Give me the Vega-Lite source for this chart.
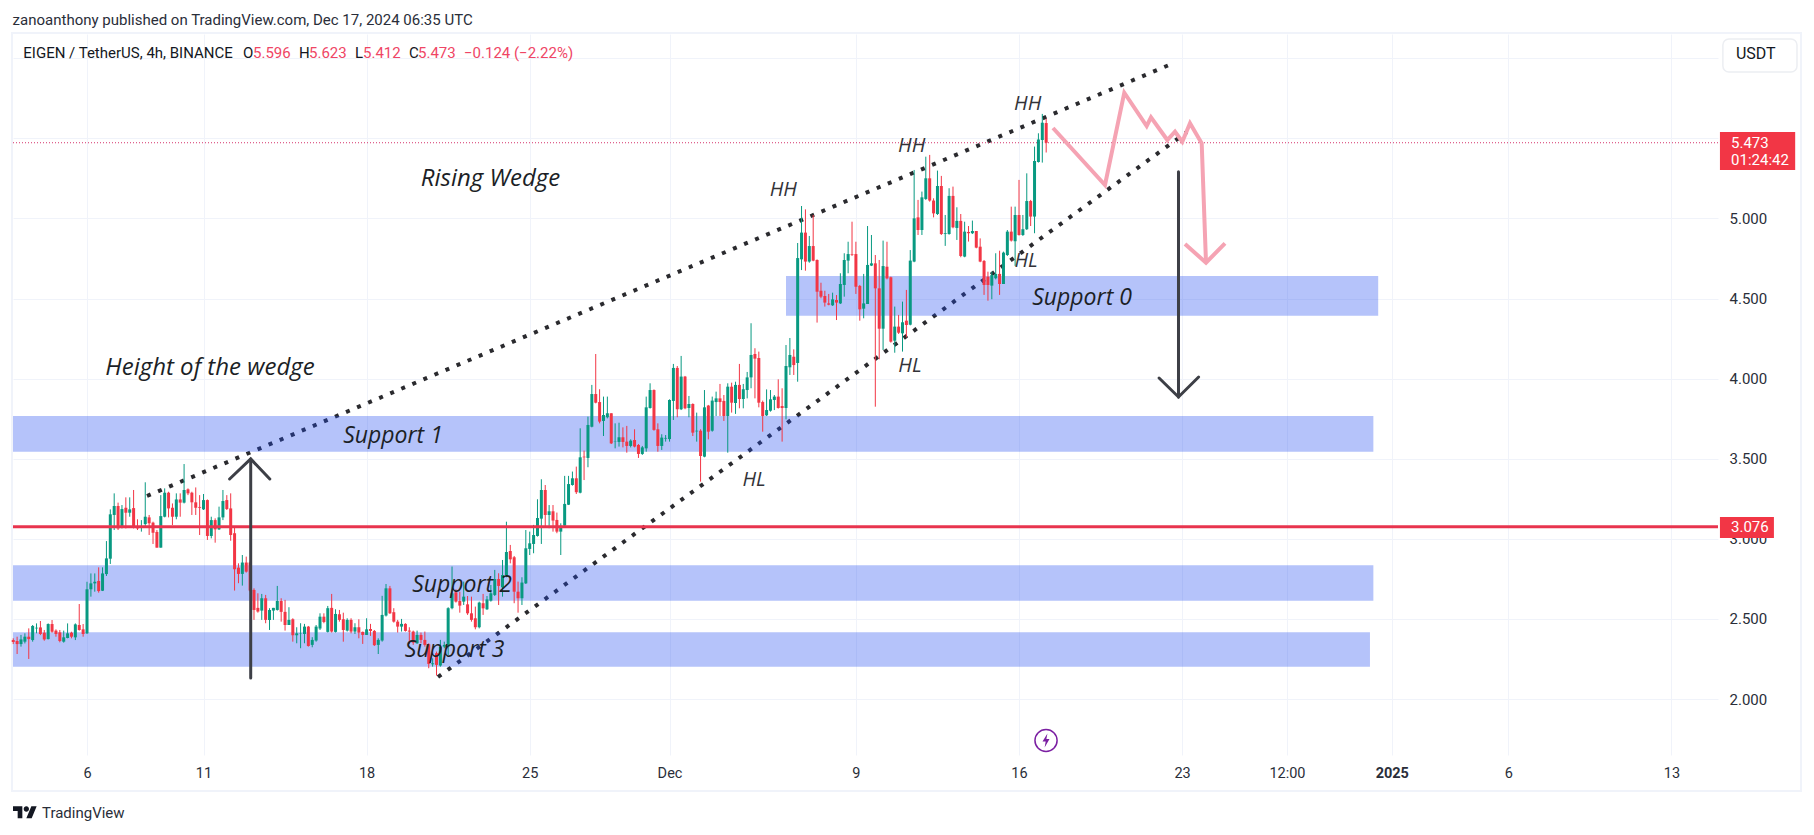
{
  "$schema": "https://vega.github.io/schema/vega-lite/v6.json",
  "width": 1705,
  "height": 721,
  "padding": {"left": 13, "top": 34, "right": 96, "bottom": 80},
  "autosize": "none",
  "background": "#ffffff",
  "config": {"view": {"stroke": null}, "text": {"font": "Roboto"}},
  "datasets": {
    "candles": [
      {"t":"2024-11-02T20:00Z","o":2.368,"h":2.379,"l":2.343,"c":2.356},
      {"t":"2024-11-03T00:00Z","o":2.362,"h":2.389,"l":2.281,"c":2.343},
      {"t":"2024-11-03T04:00Z","o":2.343,"h":2.400,"l":2.327,"c":2.372},
      {"t":"2024-11-03T08:00Z","o":2.358,"h":2.410,"l":2.347,"c":2.389},
      {"t":"2024-11-03T12:00Z","o":2.389,"h":2.441,"l":2.250,"c":2.374},
      {"t":"2024-11-03T16:00Z","o":2.368,"h":2.462,"l":2.358,"c":2.456},
      {"t":"2024-11-03T20:00Z","o":2.441,"h":2.472,"l":2.410,"c":2.445},
      {"t":"2024-11-04T00:00Z","o":2.447,"h":2.487,"l":2.399,"c":2.406},
      {"t":"2024-11-04T04:00Z","o":2.414,"h":2.431,"l":2.364,"c":2.372},
      {"t":"2024-11-04T08:00Z","o":2.374,"h":2.472,"l":2.372,"c":2.468},
      {"t":"2024-11-04T12:00Z","o":2.468,"h":2.493,"l":2.414,"c":2.420},
      {"t":"2024-11-04T16:00Z","o":2.427,"h":2.435,"l":2.389,"c":2.406},
      {"t":"2024-11-04T20:00Z","o":2.416,"h":2.431,"l":2.354,"c":2.362},
      {"t":"2024-11-05T00:00Z","o":2.358,"h":2.427,"l":2.352,"c":2.385},
      {"t":"2024-11-05T04:00Z","o":2.381,"h":2.472,"l":2.379,"c":2.410},
      {"t":"2024-11-05T08:00Z","o":2.414,"h":2.420,"l":2.379,"c":2.389},
      {"t":"2024-11-05T12:00Z","o":2.385,"h":2.472,"l":2.368,"c":2.466},
      {"t":"2024-11-05T16:00Z","o":2.462,"h":2.593,"l":2.427,"c":2.431},
      {"t":"2024-11-05T20:00Z","o":2.435,"h":2.468,"l":2.389,"c":2.406},
      {"t":"2024-11-06T00:00Z","o":2.410,"h":2.732,"l":2.406,"c":2.685},
      {"t":"2024-11-06T04:00Z","o":2.685,"h":2.784,"l":2.639,"c":2.722},
      {"t":"2024-11-06T08:00Z","o":2.722,"h":2.784,"l":2.670,"c":2.732},
      {"t":"2024-11-06T12:00Z","o":2.737,"h":2.822,"l":2.664,"c":2.674},
      {"t":"2024-11-06T16:00Z","o":2.676,"h":2.822,"l":2.674,"c":2.784},
      {"t":"2024-11-06T20:00Z","o":2.780,"h":2.986,"l":2.768,"c":2.878},
      {"t":"2024-11-07T00:00Z","o":2.876,"h":3.184,"l":2.843,"c":3.153},
      {"t":"2024-11-07T04:00Z","o":3.149,"h":3.284,"l":3.055,"c":3.205},
      {"t":"2024-11-07T08:00Z","o":3.205,"h":3.226,"l":3.055,"c":3.065},
      {"t":"2024-11-07T12:00Z","o":3.070,"h":3.211,"l":3.065,"c":3.186},
      {"t":"2024-11-07T16:00Z","o":3.194,"h":3.259,"l":3.065,"c":3.163},
      {"t":"2024-11-07T20:00Z","o":3.163,"h":3.259,"l":3.138,"c":3.184},
      {"t":"2024-11-08T00:00Z","o":3.192,"h":3.305,"l":3.065,"c":3.070},
      {"t":"2024-11-08T04:00Z","o":3.076,"h":3.122,"l":3.055,"c":3.065},
      {"t":"2024-11-08T08:00Z","o":3.076,"h":3.117,"l":3.045,"c":3.080},
      {"t":"2024-11-08T12:00Z","o":3.092,"h":3.353,"l":3.080,"c":3.138},
      {"t":"2024-11-08T16:00Z","o":3.134,"h":3.149,"l":3.024,"c":3.097},
      {"t":"2024-11-08T20:00Z","o":3.101,"h":3.107,"l":2.968,"c":3.038},
      {"t":"2024-11-09T00:00Z","o":3.043,"h":3.055,"l":2.945,"c":2.945},
      {"t":"2024-11-09T04:00Z","o":2.945,"h":3.273,"l":2.945,"c":3.142},
      {"t":"2024-11-09T08:00Z","o":3.138,"h":3.315,"l":3.134,"c":3.288},
      {"t":"2024-11-09T12:00Z","o":3.288,"h":3.294,"l":3.134,"c":3.190},
      {"t":"2024-11-09T16:00Z","o":3.194,"h":3.221,"l":3.086,"c":3.138},
      {"t":"2024-11-09T20:00Z","o":3.138,"h":3.284,"l":3.122,"c":3.246},
      {"t":"2024-11-10T00:00Z","o":3.246,"h":3.284,"l":3.138,"c":3.226},
      {"t":"2024-11-10T04:00Z","o":3.226,"h":3.467,"l":3.221,"c":3.305},
      {"t":"2024-11-10T08:00Z","o":3.309,"h":3.315,"l":3.273,"c":3.284},
      {"t":"2024-11-10T12:00Z","o":3.288,"h":3.294,"l":3.149,"c":3.228},
      {"t":"2024-11-10T16:00Z","o":3.228,"h":3.321,"l":3.149,"c":3.194},
      {"t":"2024-11-10T20:00Z","o":3.199,"h":3.273,"l":3.024,"c":3.194},
      {"t":"2024-11-11T00:00Z","o":3.184,"h":3.280,"l":3.180,"c":3.242},
      {"t":"2024-11-11T04:00Z","o":3.242,"h":3.246,"l":2.993,"c":3.018},
      {"t":"2024-11-11T08:00Z","o":3.018,"h":3.138,"l":3.003,"c":3.117},
      {"t":"2024-11-11T12:00Z","o":3.117,"h":3.128,"l":2.976,"c":3.059},
      {"t":"2024-11-11T16:00Z","o":3.059,"h":3.201,"l":3.055,"c":3.134},
      {"t":"2024-11-11T20:00Z","o":3.134,"h":3.305,"l":3.117,"c":3.236},
      {"t":"2024-11-12T00:00Z","o":3.242,"h":3.273,"l":3.180,"c":3.186},
      {"t":"2024-11-12T04:00Z","o":3.190,"h":3.284,"l":2.988,"c":3.024},
      {"t":"2024-11-12T08:00Z","o":3.035,"h":3.076,"l":2.677,"c":2.810},
      {"t":"2024-11-12T12:00Z","o":2.820,"h":2.847,"l":2.723,"c":2.781},
      {"t":"2024-11-12T16:00Z","o":2.781,"h":2.899,"l":2.708,"c":2.852},
      {"t":"2024-11-12T20:00Z","o":2.852,"h":2.889,"l":2.789,"c":2.795},
      {"t":"2024-11-13T00:00Z","o":2.852,"h":2.858,"l":2.671,"c":2.677},
      {"t":"2024-11-13T04:00Z","o":2.681,"h":2.691,"l":2.494,"c":2.556},
      {"t":"2024-11-13T08:00Z","o":2.569,"h":2.660,"l":2.539,"c":2.546},
      {"t":"2024-11-13T12:00Z","o":2.552,"h":2.656,"l":2.494,"c":2.629},
      {"t":"2024-11-13T16:00Z","o":2.629,"h":2.650,"l":2.473,"c":2.494},
      {"t":"2024-11-13T20:00Z","o":2.494,"h":2.567,"l":2.431,"c":2.556},
      {"t":"2024-11-14T00:00Z","o":2.552,"h":2.569,"l":2.494,"c":2.569},
      {"t":"2024-11-14T04:00Z","o":2.556,"h":2.706,"l":2.552,"c":2.612},
      {"t":"2024-11-14T08:00Z","o":2.612,"h":2.629,"l":2.483,"c":2.544},
      {"t":"2024-11-14T12:00Z","o":2.544,"h":2.619,"l":2.427,"c":2.462},
      {"t":"2024-11-14T16:00Z","o":2.462,"h":2.573,"l":2.462,"c":2.494},
      {"t":"2024-11-14T20:00Z","o":2.498,"h":2.504,"l":2.358,"c":2.398},
      {"t":"2024-11-15T00:00Z","o":2.398,"h":2.448,"l":2.348,"c":2.410},
      {"t":"2024-11-15T04:00Z","o":2.408,"h":2.473,"l":2.317,"c":2.410},
      {"t":"2024-11-15T08:00Z","o":2.406,"h":2.469,"l":2.348,"c":2.452},
      {"t":"2024-11-15T12:00Z","o":2.452,"h":2.456,"l":2.327,"c":2.331},
      {"t":"2024-11-15T16:00Z","o":2.338,"h":2.386,"l":2.323,"c":2.369},
      {"t":"2024-11-15T20:00Z","o":2.365,"h":2.462,"l":2.358,"c":2.452},
      {"t":"2024-11-16T00:00Z","o":2.440,"h":2.535,"l":2.431,"c":2.514},
      {"t":"2024-11-16T04:00Z","o":2.514,"h":2.535,"l":2.473,"c":2.481},
      {"t":"2024-11-16T08:00Z","o":2.419,"h":2.581,"l":2.415,"c":2.567},
      {"t":"2024-11-16T12:00Z","o":2.569,"h":2.656,"l":2.415,"c":2.421},
      {"t":"2024-11-16T16:00Z","o":2.419,"h":2.560,"l":2.415,"c":2.531},
      {"t":"2024-11-16T20:00Z","o":2.529,"h":2.556,"l":2.483,"c":2.494},
      {"t":"2024-11-17T00:00Z","o":2.498,"h":2.539,"l":2.358,"c":2.431},
      {"t":"2024-11-17T04:00Z","o":2.427,"h":2.504,"l":2.421,"c":2.494},
      {"t":"2024-11-17T08:00Z","o":2.494,"h":2.504,"l":2.410,"c":2.421},
      {"t":"2024-11-17T12:00Z","o":2.421,"h":2.473,"l":2.406,"c":2.448},
      {"t":"2024-11-17T16:00Z","o":2.448,"h":2.498,"l":2.379,"c":2.415},
      {"t":"2024-11-17T20:00Z","o":2.419,"h":2.421,"l":2.344,"c":2.400},
      {"t":"2024-11-18T00:00Z","o":2.400,"h":2.504,"l":2.400,"c":2.435},
      {"t":"2024-11-18T04:00Z","o":2.437,"h":2.469,"l":2.394,"c":2.425},
      {"t":"2024-11-18T08:00Z","o":2.425,"h":2.431,"l":2.331,"c":2.336},
      {"t":"2024-11-18T12:00Z","o":2.338,"h":2.379,"l":2.281,"c":2.369},
      {"t":"2024-11-18T16:00Z","o":2.365,"h":2.644,"l":2.358,"c":2.525},
      {"t":"2024-11-18T20:00Z","o":2.521,"h":2.718,"l":2.515,"c":2.691},
      {"t":"2024-11-19T00:00Z","o":2.691,"h":2.706,"l":2.531,"c":2.535},
      {"t":"2024-11-19T04:00Z","o":2.542,"h":2.567,"l":2.477,"c":2.483},
      {"t":"2024-11-19T08:00Z","o":2.483,"h":2.494,"l":2.415,"c":2.452},
      {"t":"2024-11-19T12:00Z","o":2.452,"h":2.500,"l":2.421,"c":2.469},
      {"t":"2024-11-19T16:00Z","o":2.469,"h":2.473,"l":2.421,"c":2.425},
      {"t":"2024-11-19T20:00Z","o":2.427,"h":2.448,"l":2.344,"c":2.421},
      {"t":"2024-11-20T00:00Z","o":2.421,"h":2.427,"l":2.338,"c":2.352},
      {"t":"2024-11-20T04:00Z","o":2.348,"h":2.427,"l":2.344,"c":2.400},
      {"t":"2024-11-20T08:00Z","o":2.400,"h":2.415,"l":2.348,"c":2.369},
      {"t":"2024-11-20T12:00Z","o":2.369,"h":2.421,"l":2.327,"c":2.338},
      {"t":"2024-11-20T16:00Z","o":2.342,"h":2.348,"l":2.192,"c":2.219},
      {"t":"2024-11-20T20:00Z","o":2.217,"h":2.254,"l":2.202,"c":2.223},
      {"t":"2024-11-21T00:00Z","o":2.286,"h":2.296,"l":2.146,"c":2.213},
      {"t":"2024-11-21T04:00Z","o":2.209,"h":2.369,"l":2.202,"c":2.327},
      {"t":"2024-11-21T08:00Z","o":2.327,"h":2.358,"l":2.317,"c":2.338},
      {"t":"2024-11-21T12:00Z","o":2.327,"h":2.573,"l":2.275,"c":2.567},
      {"t":"2024-11-21T16:00Z","o":2.567,"h":2.827,"l":2.560,"c":2.660},
      {"t":"2024-11-21T20:00Z","o":2.666,"h":2.685,"l":2.602,"c":2.608},
      {"t":"2024-11-22T00:00Z","o":2.612,"h":2.670,"l":2.539,"c":2.583},
      {"t":"2024-11-22T04:00Z","o":2.608,"h":2.733,"l":2.587,"c":2.639},
      {"t":"2024-11-22T08:00Z","o":2.591,"h":2.643,"l":2.525,"c":2.535},
      {"t":"2024-11-22T12:00Z","o":2.535,"h":2.639,"l":2.483,"c":2.494},
      {"t":"2024-11-22T16:00Z","o":2.504,"h":2.577,"l":2.435,"c":2.448},
      {"t":"2024-11-22T20:00Z","o":2.448,"h":2.608,"l":2.441,"c":2.602},
      {"t":"2024-11-23T00:00Z","o":2.598,"h":2.656,"l":2.525,"c":2.566},
      {"t":"2024-11-23T04:00Z","o":2.560,"h":2.643,"l":2.556,"c":2.622},
      {"t":"2024-11-23T08:00Z","o":2.614,"h":2.712,"l":2.608,"c":2.660},
      {"t":"2024-11-23T12:00Z","o":2.650,"h":2.806,"l":2.643,"c":2.749},
      {"t":"2024-11-23T16:00Z","o":2.749,"h":2.785,"l":2.587,"c":2.706},
      {"t":"2024-11-23T20:00Z","o":2.697,"h":2.868,"l":2.639,"c":2.774},
      {"t":"2024-11-24T00:00Z","o":2.774,"h":3.107,"l":2.760,"c":2.918},
      {"t":"2024-11-24T04:00Z","o":2.924,"h":2.962,"l":2.847,"c":2.872},
      {"t":"2024-11-24T08:00Z","o":2.885,"h":2.893,"l":2.598,"c":2.670},
      {"t":"2024-11-24T12:00Z","o":2.670,"h":2.733,"l":2.539,"c":2.629},
      {"t":"2024-11-24T16:00Z","o":2.629,"h":2.760,"l":2.587,"c":2.727},
      {"t":"2024-11-24T20:00Z","o":2.722,"h":3.055,"l":2.718,"c":2.941},
      {"t":"2024-11-25T00:00Z","o":2.937,"h":3.045,"l":2.899,"c":2.972},
      {"t":"2024-11-25T04:00Z","o":2.968,"h":3.087,"l":2.910,"c":3.024},
      {"t":"2024-11-25T08:00Z","o":3.018,"h":3.247,"l":3.014,"c":3.130},
      {"t":"2024-11-25T12:00Z","o":3.126,"h":3.372,"l":2.968,"c":3.305},
      {"t":"2024-11-25T16:00Z","o":3.305,"h":3.336,"l":3.076,"c":3.149},
      {"t":"2024-11-25T20:00Z","o":3.149,"h":3.211,"l":3.066,"c":3.172},
      {"t":"2024-11-26T00:00Z","o":3.172,"h":3.211,"l":3.045,"c":3.114},
      {"t":"2024-11-26T04:00Z","o":3.118,"h":3.164,"l":3.035,"c":3.045},
      {"t":"2024-11-26T08:00Z","o":3.045,"h":3.097,"l":2.899,"c":3.082},
      {"t":"2024-11-26T12:00Z","o":3.082,"h":3.393,"l":3.076,"c":3.218},
      {"t":"2024-11-26T16:00Z","o":3.213,"h":3.393,"l":3.211,"c":3.342},
      {"t":"2024-11-26T20:00Z","o":3.336,"h":3.420,"l":3.332,"c":3.378},
      {"t":"2024-11-27T00:00Z","o":3.378,"h":3.451,"l":3.280,"c":3.291},
      {"t":"2024-11-27T04:00Z","o":3.288,"h":3.690,"l":3.284,"c":3.509},
      {"t":"2024-11-27T08:00Z","o":3.513,"h":3.551,"l":3.367,"c":3.509},
      {"t":"2024-11-27T12:00Z","o":3.505,"h":3.763,"l":3.447,"c":3.711},
      {"t":"2024-11-27T16:00Z","o":3.700,"h":3.961,"l":3.696,"c":3.904},
      {"t":"2024-11-27T20:00Z","o":3.904,"h":4.154,"l":3.846,"c":3.850},
      {"t":"2024-11-28T00:00Z","o":3.854,"h":3.934,"l":3.721,"c":3.732},
      {"t":"2024-11-28T04:00Z","o":3.736,"h":3.888,"l":3.642,"c":3.773},
      {"t":"2024-11-28T08:00Z","o":3.759,"h":3.888,"l":3.752,"c":3.784},
      {"t":"2024-11-28T12:00Z","o":3.784,"h":3.784,"l":3.592,"c":3.596},
      {"t":"2024-11-28T16:00Z","o":3.605,"h":3.721,"l":3.565,"c":3.607},
      {"t":"2024-11-28T20:00Z","o":3.605,"h":3.725,"l":3.576,"c":3.634},
      {"t":"2024-11-29T00:00Z","o":3.634,"h":3.696,"l":3.571,"c":3.605},
      {"t":"2024-11-29T04:00Z","o":3.607,"h":3.705,"l":3.538,"c":3.580},
      {"t":"2024-11-29T08:00Z","o":3.580,"h":3.621,"l":3.571,"c":3.613},
      {"t":"2024-11-29T12:00Z","o":3.617,"h":3.684,"l":3.571,"c":3.576},
      {"t":"2024-11-29T16:00Z","o":3.586,"h":3.592,"l":3.505,"c":3.530},
      {"t":"2024-11-29T20:00Z","o":3.530,"h":3.580,"l":3.524,"c":3.571},
      {"t":"2024-11-30T00:00Z","o":3.565,"h":3.888,"l":3.544,"c":3.821},
      {"t":"2024-11-30T04:00Z","o":3.817,"h":3.971,"l":3.813,"c":3.929},
      {"t":"2024-11-30T08:00Z","o":3.929,"h":3.933,"l":3.675,"c":3.680},
      {"t":"2024-11-30T12:00Z","o":3.684,"h":3.721,"l":3.544,"c":3.580},
      {"t":"2024-11-30T16:00Z","o":3.580,"h":3.653,"l":3.555,"c":3.632},
      {"t":"2024-11-30T20:00Z","o":3.626,"h":3.648,"l":3.607,"c":3.630},
      {"t":"2024-12-01T00:00Z","o":3.623,"h":3.871,"l":3.607,"c":3.867},
      {"t":"2024-12-01T04:00Z","o":3.861,"h":4.092,"l":3.742,"c":4.067},
      {"t":"2024-12-01T08:00Z","o":4.067,"h":4.079,"l":3.759,"c":3.809},
      {"t":"2024-12-01T12:00Z","o":3.809,"h":4.142,"l":3.804,"c":4.013},
      {"t":"2024-12-01T16:00Z","o":4.013,"h":4.017,"l":3.809,"c":3.815},
      {"t":"2024-12-01T20:00Z","o":3.817,"h":3.892,"l":3.759,"c":3.842},
      {"t":"2024-12-02T00:00Z","o":3.842,"h":3.846,"l":3.642,"c":3.663},
      {"t":"2024-12-02T04:00Z","o":3.671,"h":3.788,"l":3.607,"c":3.675},
      {"t":"2024-12-02T08:00Z","o":3.675,"h":3.684,"l":3.357,"c":3.517},
      {"t":"2024-12-02T12:00Z","o":3.513,"h":3.929,"l":3.509,"c":3.821},
      {"t":"2024-12-02T16:00Z","o":3.832,"h":3.836,"l":3.621,"c":3.669},
      {"t":"2024-12-02T20:00Z","o":3.675,"h":3.888,"l":3.669,"c":3.863},
      {"t":"2024-12-03T00:00Z","o":3.854,"h":3.919,"l":3.767,"c":3.877},
      {"t":"2024-12-03T04:00Z","o":3.877,"h":3.967,"l":3.767,"c":3.854},
      {"t":"2024-12-03T08:00Z","o":3.861,"h":3.898,"l":3.736,"c":3.767},
      {"t":"2024-12-03T12:00Z","o":3.767,"h":3.971,"l":3.538,"c":3.950},
      {"t":"2024-12-03T16:00Z","o":3.950,"h":3.975,"l":3.788,"c":3.850},
      {"t":"2024-12-03T20:00Z","o":3.848,"h":3.981,"l":3.780,"c":3.961},
      {"t":"2024-12-04T00:00Z","o":3.961,"h":4.092,"l":3.815,"c":3.873},
      {"t":"2024-12-04T04:00Z","o":3.873,"h":3.967,"l":3.815,"c":3.934},
      {"t":"2024-12-04T08:00Z","o":3.929,"h":4.042,"l":3.877,"c":4.008},
      {"t":"2024-12-04T12:00Z","o":4.008,"h":4.346,"l":3.940,"c":4.148},
      {"t":"2024-12-04T16:00Z","o":4.154,"h":4.190,"l":3.877,"c":4.125},
      {"t":"2024-12-04T20:00Z","o":4.129,"h":4.169,"l":3.821,"c":3.850},
      {"t":"2024-12-05T00:00Z","o":3.854,"h":3.863,"l":3.669,"c":3.767},
      {"t":"2024-12-05T04:00Z","o":3.771,"h":3.933,"l":3.767,"c":3.804},
      {"t":"2024-12-05T08:00Z","o":3.800,"h":3.929,"l":3.794,"c":3.871},
      {"t":"2024-12-05T12:00Z","o":3.867,"h":3.898,"l":3.804,"c":3.888},
      {"t":"2024-12-05T16:00Z","o":3.888,"h":3.996,"l":3.813,"c":3.817},
      {"t":"2024-12-05T20:00Z","o":3.829,"h":3.940,"l":3.607,"c":3.817},
      {"t":"2024-12-06T00:00Z","o":3.817,"h":4.210,"l":3.746,"c":4.079},
      {"t":"2024-12-06T04:00Z","o":4.071,"h":4.254,"l":4.023,"c":4.148},
      {"t":"2024-12-06T08:00Z","o":4.137,"h":4.183,"l":4.023,"c":4.085},
      {"t":"2024-12-06T12:00Z","o":4.098,"h":4.847,"l":3.981,"c":4.753},
      {"t":"2024-12-06T16:00Z","o":4.745,"h":5.078,"l":4.678,"c":4.912},
      {"t":"2024-12-06T20:00Z","o":4.912,"h":5.057,"l":4.674,"c":4.731},
      {"t":"2024-12-07T00:00Z","o":4.731,"h":4.891,"l":4.724,"c":4.828},
      {"t":"2024-12-07T04:00Z","o":4.828,"h":5.022,"l":4.733,"c":4.737},
      {"t":"2024-12-07T08:00Z","o":4.741,"h":4.745,"l":4.350,"c":4.543},
      {"t":"2024-12-07T12:00Z","o":4.549,"h":4.599,"l":4.502,"c":4.512},
      {"t":"2024-12-07T16:00Z","o":4.516,"h":4.549,"l":4.450,"c":4.475},
      {"t":"2024-12-07T20:00Z","o":4.470,"h":4.529,"l":4.458,"c":4.462},
      {"t":"2024-12-08T00:00Z","o":4.458,"h":4.537,"l":4.454,"c":4.495},
      {"t":"2024-12-08T04:00Z","o":4.491,"h":4.522,"l":4.366,"c":4.475},
      {"t":"2024-12-08T08:00Z","o":4.470,"h":4.658,"l":4.466,"c":4.591},
      {"t":"2024-12-08T12:00Z","o":4.585,"h":4.783,"l":4.512,"c":4.741},
      {"t":"2024-12-08T16:00Z","o":4.737,"h":4.855,"l":4.658,"c":4.778},
      {"t":"2024-12-08T20:00Z","o":4.778,"h":4.980,"l":4.766,"c":4.774},
      {"t":"2024-12-09T00:00Z","o":4.778,"h":4.855,"l":4.529,"c":4.574},
      {"t":"2024-12-09T04:00Z","o":4.579,"h":4.585,"l":4.362,"c":4.433},
      {"t":"2024-12-09T08:00Z","o":4.437,"h":4.654,"l":4.377,"c":4.470},
      {"t":"2024-12-09T12:00Z","o":4.466,"h":4.953,"l":4.466,"c":4.710},
      {"t":"2024-12-09T16:00Z","o":4.706,"h":4.897,"l":4.703,"c":4.720},
      {"t":"2024-12-09T20:00Z","o":4.720,"h":4.772,"l":3.825,"c":4.564},
      {"t":"2024-12-10T00:00Z","o":4.564,"h":4.741,"l":4.121,"c":4.312},
      {"t":"2024-12-10T04:00Z","o":4.312,"h":4.862,"l":4.179,"c":4.703},
      {"t":"2024-12-10T08:00Z","o":4.699,"h":4.855,"l":4.620,"c":4.626},
      {"t":"2024-12-10T12:00Z","o":4.633,"h":4.637,"l":4.225,"c":4.231},
      {"t":"2024-12-10T16:00Z","o":4.237,"h":4.450,"l":4.162,"c":4.325},
      {"t":"2024-12-10T20:00Z","o":4.325,"h":4.398,"l":4.279,"c":4.287},
      {"t":"2024-12-11T00:00Z","o":4.283,"h":4.481,"l":4.169,"c":4.352},
      {"t":"2024-12-11T04:00Z","o":4.362,"h":4.554,"l":4.258,"c":4.335},
      {"t":"2024-12-11T08:00Z","o":4.337,"h":4.803,"l":4.333,"c":4.737},
      {"t":"2024-12-11T12:00Z","o":4.731,"h":5.303,"l":4.727,"c":5.001},
      {"t":"2024-12-11T16:00Z","o":5.007,"h":5.116,"l":4.897,"c":4.928},
      {"t":"2024-12-11T20:00Z","o":4.928,"h":5.168,"l":4.897,"c":5.132},
      {"t":"2024-12-12T00:00Z","o":5.122,"h":5.386,"l":5.116,"c":5.251},
      {"t":"2024-12-12T04:00Z","o":5.251,"h":5.397,"l":5.105,"c":5.112},
      {"t":"2024-12-12T08:00Z","o":5.112,"h":5.126,"l":5.007,"c":5.032},
      {"t":"2024-12-12T12:00Z","o":5.028,"h":5.299,"l":5.022,"c":5.203},
      {"t":"2024-12-12T16:00Z","o":5.203,"h":5.266,"l":4.897,"c":4.903},
      {"t":"2024-12-12T20:00Z","o":4.903,"h":5.022,"l":4.829,"c":4.908},
      {"t":"2024-12-13T00:00Z","o":4.903,"h":5.189,"l":4.899,"c":5.141},
      {"t":"2024-12-13T04:00Z","o":5.141,"h":5.199,"l":4.939,"c":4.945},
      {"t":"2024-12-13T08:00Z","o":4.941,"h":5.070,"l":4.866,"c":4.985},
      {"t":"2024-12-13T12:00Z","o":4.985,"h":5.028,"l":4.758,"c":4.766},
      {"t":"2024-12-13T16:00Z","o":4.762,"h":4.980,"l":4.758,"c":4.918},
      {"t":"2024-12-13T20:00Z","o":4.916,"h":4.953,"l":4.856,"c":4.908},
      {"t":"2024-12-14T00:00Z","o":4.908,"h":4.987,"l":4.903,"c":4.922},
      {"t":"2024-12-14T04:00Z","o":4.922,"h":4.922,"l":4.814,"c":4.818},
      {"t":"2024-12-14T08:00Z","o":4.824,"h":4.876,"l":4.727,"c":4.731},
      {"t":"2024-12-14T12:00Z","o":4.735,"h":4.741,"l":4.523,"c":4.585},
      {"t":"2024-12-14T16:00Z","o":4.637,"h":4.668,"l":4.487,"c":4.585},
      {"t":"2024-12-14T20:00Z","o":4.581,"h":4.668,"l":4.496,"c":4.647},
      {"t":"2024-12-15T00:00Z","o":4.627,"h":4.783,"l":4.620,"c":4.654},
      {"t":"2024-12-15T04:00Z","o":4.654,"h":4.799,"l":4.523,"c":4.591},
      {"t":"2024-12-15T08:00Z","o":4.591,"h":4.793,"l":4.591,"c":4.787},
      {"t":"2024-12-15T12:00Z","o":4.772,"h":4.928,"l":4.766,"c":4.918},
      {"t":"2024-12-15T16:00Z","o":4.918,"h":5.074,"l":4.856,"c":4.862},
      {"t":"2024-12-15T20:00Z","o":4.858,"h":5.074,"l":4.704,"c":5.022},
      {"t":"2024-12-16T00:00Z","o":5.022,"h":5.241,"l":4.893,"c":4.897},
      {"t":"2024-12-16T04:00Z","o":4.897,"h":5.022,"l":4.891,"c":4.933},
      {"t":"2024-12-16T08:00Z","o":4.933,"h":5.282,"l":4.928,"c":5.109},
      {"t":"2024-12-16T12:00Z","o":5.109,"h":5.116,"l":4.953,"c":5.012},
      {"t":"2024-12-16T16:00Z","o":5.012,"h":5.449,"l":4.908,"c":5.359},
      {"t":"2024-12-16T20:00Z","o":5.353,"h":5.532,"l":5.349,"c":5.494},
      {"t":"2024-12-17T00:00Z","o":5.490,"h":5.653,"l":5.349,"c":5.598},
      {"t":"2024-12-17T04:00Z","o":5.596,"h":5.623,"l":5.412,"c":5.473}
    ],
    "wedge": [
      {"s":"top","t":"2024-11-08T13:48Z","p":3.2675},
      {"s":"top","t":"2024-12-22T09:22Z","p":5.9553},
      {"s":"bottom","t":"2024-11-21T01:32Z","p":2.1374},
      {"s":"bottom","t":"2024-12-23T05:02Z","p":5.5401}
    ],
    "zones": [
      {"t":"2024-11-02T19:46Z","t2":"2024-12-31T05:00Z","p":3.767,"p2":3.544},
      {"t":"2024-11-02T19:46Z","t2":"2024-12-31T05:00Z","p":2.8346,"p2":2.614},
      {"t":"2024-11-02T19:46Z","t2":"2024-12-31T01:30Z","p":2.4163,"p2":2.2019},
      {"t":"2024-12-06T00:00Z","t2":"2024-12-31T10:00Z","p":4.641,"p2":4.393}
    ],
    "arrows": [
      {"s":"up","n":1,"t":"2024-11-13T00:37Z","p":2.1312},
      {"s":"up","n":2,"t":"2024-11-13T00:37Z","p":3.4985},
      {"s":"upHead","n":1,"t":"2024-11-12T02:53Z","p":3.3736},
      {"s":"upHead","n":2,"t":"2024-11-13T00:37Z","p":3.4985},
      {"s":"upHead","n":3,"t":"2024-11-13T20:17Z","p":3.3736},
      {"s":"down","n":1,"t":"2024-12-22T20:17Z","p":5.2922},
      {"s":"down","n":2,"t":"2024-12-22T20:17Z","p":3.8856},
      {"s":"downHead","n":1,"t":"2024-12-22T00:15Z","p":4.0042},
      {"s":"downHead","n":2,"t":"2024-12-22T20:17Z","p":3.8856},
      {"s":"downHead","n":3,"t":"2024-12-23T17:02Z","p":4.0104}
    ],
    "forecast": [
      {"s":"path","n":1,"t":"2024-12-17T11:01Z","p":5.565},
      {"s":"path","n":2,"t":"2024-12-19T16:35Z","p":5.2092},
      {"s":"path","n":3,"t":"2024-12-20T12:27Z","p":5.7854},
      {"s":"path","n":4,"t":"2024-12-21T11:31Z","p":5.5775},
      {"s":"path","n":5,"t":"2024-12-21T15:58Z","p":5.6318},
      {"s":"path","n":6,"t":"2024-12-22T08:46Z","p":5.4901},
      {"s":"path","n":7,"t":"2024-12-22T16:41Z","p":5.5419},
      {"s":"path","n":8,"t":"2024-12-23T00:13Z","p":5.4795},
      {"s":"path","n":9,"t":"2024-12-23T08:08Z","p":5.5944},
      {"s":"path","n":10,"t":"2024-12-23T20:11Z","p":5.4695},
      {"s":"path","n":11,"t":"2024-12-24T00:37Z","p":4.724},
      {"s":"head","n":1,"t":"2024-12-23T02:59Z","p":4.8408},
      {"s":"head","n":2,"t":"2024-12-24T00:37Z","p":4.724},
      {"s":"head","n":3,"t":"2024-12-24T20:10Z","p":4.8452}
    ]
  },
  "encoding": {
    "x": {
      "field": "t",
      "type": "temporal",
      "title": null,
      "scale": {
        "type": "utc",
        "padding": 0,
        "domain": [
          {"year": 2024, "month": "November", "date": 2, "hours": 19, "minutes": 46, "utc": true},
          {"year": 2025, "month": "January", "date": 15, "utc": true}
        ]
      },
      "axis": {
        "values": [
          {"year": 2024, "month": "November", "date": 6, "utc": true},
          {"year": 2024, "month": "November", "date": 11, "utc": true},
          {"year": 2024, "month": "November", "date": 18, "utc": true},
          {"year": 2024, "month": "November", "date": 25, "utc": true},
          {"year": 2024, "month": "December", "date": 1, "utc": true},
          {"year": 2024, "month": "December", "date": 9, "utc": true},
          {"year": 2024, "month": "December", "date": 16, "utc": true},
          {"year": 2024, "month": "December", "date": 23, "utc": true},
          {"year": 2024, "month": "December", "date": 27, "hours": 12, "utc": true},
          {"year": 2025, "month": "January", "date": 1, "utc": true},
          {"year": 2025, "month": "January", "date": 6, "utc": true},
          {"year": 2025, "month": "January", "date": 13, "utc": true}
        ],
        "labelExpr": "utchours(datum.value)==12 ? '12:00' : utcdate(datum.value)==1 ? (utcmonth(datum.value)==0 ? '2025' : 'Dec') : utcdate(datum.value)",
        "labelFontWeight": {"condition": {"test": "utcmonth(datum.value)==0 && utcdate(datum.value)==1", "value": "bold"}, "value": "normal"},
        "labelFont": "Roboto",
        "labelFontSize": 14.5,
        "labelColor": "#2a2e39",
        "labelPadding": 11,
        "labelOverlap": false,
        "labelFlush": false,
        "domain": false,
        "ticks": false,
        "grid": true,
        "gridColor": "#f0f3fa",
        "gridWidth": 1
      }
    },
    "y": {
      "field": "p",
      "type": "quantitative",
      "title": null,
      "scale": {"domain": [1.6504, 6.1519], "nice": false, "zero": false},
      "axis": {
        "orient": "right",
        "values": [2, 2.5, 3, 3.5, 4, 4.5, 5, 5.5, 6],
        "labelExpr": "datum.value>5 ? '' : format(datum.value,'.3f')",
        "labelFont": "Roboto",
        "labelFontSize": 15,
        "labelColor": "#2a2e39",
        "labelPadding": 11,
        "labelOverlap": false,
        "labelFlush": false,
        "domain": false,
        "ticks": false,
        "grid": true,
        "gridColor": "#f0f3fa",
        "gridWidth": 1
      }
    }
  },
  "layer": [
    {
      "data": {"values": [{"t": "2024-11-02T18:44Z", "t2": "2025-01-18T13:30Z", "p": 6.158, "p2": 1.4257}]},
      "mark": {"type": "rect", "fill": "#ffffff", "fillOpacity": 0, "stroke": "#f0f3fa", "strokeWidth": 2},
      "encoding": {"x2": {"field": "t2"}, "y2": {"field": "p2"}}
    },
    {
      "data": {"name": "wedge"},
      "mark": {"type": "line", "color": "#2a2a2e", "strokeWidth": 4, "strokeDash": [4, 8]},
      "encoding": {"detail": {"field": "s"}}
    },
    {
      "data": {"name": "zones"},
      "mark": {"type": "rect", "color": "#1f48f0", "opacity": 0.33},
      "encoding": {"x2": {"field": "t2"}, "y2": {"field": "p2"}}
    },
    {
      "data": {"values": [{"p": 5.473}]},
      "mark": {"type": "rule", "color": "#d6336c", "strokeWidth": 1, "strokeDash": [1, 2]},
      "encoding": {"x": {"value": 0}, "x2": {"value": 1705}}
    },
    {
      "data": {"name": "candles"},
      "mark": {"type": "rule", "strokeWidth": 1},
      "encoding": {
        "y": {"field": "h", "type": "quantitative"},
        "y2": {"field": "l"},
        "color": {"condition": {"test": "datum.c>=datum.o", "value": "#089981"}, "value": "#f23645"}
      }
    },
    {
      "data": {"name": "candles"},
      "mark": {"type": "bar", "size": 3},
      "encoding": {
        "y": {"field": "o", "type": "quantitative"},
        "y2": {"field": "c"},
        "color": {"condition": {"test": "datum.c>=datum.o", "value": "#089981"}, "value": "#f23645"}
      }
    },
    {
      "data": {"values": [{"p": 3.076}]},
      "mark": {"type": "rule", "color": "#e8344e", "strokeWidth": 3},
      "encoding": {"x": {"value": 0}, "x2": {"value": 1705}}
    },
    {
      "data": {"name": "arrows"},
      "mark": {"type": "line", "color": "#3d3f46", "strokeWidth": 3, "strokeCap": "round"},
      "encoding": {"detail": {"field": "s"}, "order": {"field": "n"}}
    },
    {
      "data": {"name": "forecast"},
      "mark": {"type": "line", "color": "#f5a3b3", "strokeWidth": 4, "strokeJoin": "miter"},
      "encoding": {"detail": {"field": "s"}, "order": {"field": "n"}}
    },
    {
      "data": {"values": [
        {"t": "2025-01-15T02:00Z", "t2": "2025-01-18T07:30Z", "p": 5.5401, "p2": 5.3028},
        {"t": "2025-01-15T02:00Z", "t2": "2025-01-17T09:36Z", "p": 3.1364, "p2": 3.0052}
      ]},
      "mark": {"type": "rect", "color": "#f23645"},
      "encoding": {"x2": {"field": "t2"}, "y2": {"field": "p2"}}
    },
    {
      "data": {"values": [{"t": "2025-01-15T05:02Z", "t2": "2025-01-18T09:22Z", "p": 6.1207, "p2": 5.9147}]},
      "mark": {"type": "rect", "fill": "#ffffff", "stroke": "#eceef2", "strokeWidth": 1.5, "cornerRadius": 6},
      "encoding": {"x2": {"field": "t2"}, "y2": {"field": "p2"}}
    },
    {
      "data": {"values": [
        {"t": "2024-11-02T19:22Z", "p": 6.2393, "label": "zanoanthony published on TradingView.com, Dec 17, 2024 06:35 UTC"}
      ]},
      "mark": {"type": "text", "align": "left", "baseline": "middle", "fontSize": 15, "color": "#2a2e39"},
      "encoding": {"text": {"field": "label"}}
    },
    {
      "data": {"values": [
        {"t": "2024-11-03T06:23Z", "p": 6.033, "label": "EIGEN / TetherUS, 4h, BINANCE"},
        {"t": "2024-11-12T16:41Z", "p": 6.033, "label": "O"},
        {"t": "2024-11-15T02:22Z", "p": 6.033, "label": "H"},
        {"t": "2024-11-17T12:03Z", "p": 6.033, "label": "L"},
        {"t": "2024-11-19T19:41Z", "p": 6.033, "label": "C"}
      ]},
      "mark": {"type": "text", "align": "left", "baseline": "middle", "fontSize": 15, "color": "#131722"},
      "encoding": {"text": {"field": "label"}}
    },
    {
      "data": {"values": [
        {"t": "2024-11-13T02:59Z", "p": 6.033, "label": "5.596"},
        {"t": "2024-11-15T12:40Z", "p": 6.033, "label": "5.623"},
        {"t": "2024-11-17T20:17Z", "p": 6.033, "label": "5.412"},
        {"t": "2024-11-20T04:57Z", "p": 6.033, "label": "5.473"},
        {"t": "2024-11-22T04:19Z", "p": 6.033, "label": "−0.124 (−2.22%)"}
      ]},
      "mark": {"type": "text", "align": "left", "baseline": "middle", "fontSize": 15, "color": "#ef4565"},
      "encoding": {"text": {"field": "label"}}
    },
    {
      "data": {"values": [{"t": "2024-11-04T01:39Z", "p": 1.2884, "label": "TradingView"}]},
      "mark": {"type": "text", "align": "left", "baseline": "middle", "fontSize": 15, "color": "#2a2e39"},
      "encoding": {"text": {"field": "label"}}
    },
    {
      "data": {"values": [{"t": "2024-11-03T08:08Z", "p": 1.2884}]},
      "mark": {
        "type": "point",
        "filled": true,
        "opacity": 1,
        "color": "#131722",
        "size": 576,
        "shape": "M-.222,.444L-.611,.444L-.611,-.167L-1,-.167L-1,-.556L-.222,-.556ZM.556,.444L.111,.444L.528,-.556L.972,-.556ZM-.111,-.333a.222,.222 0 1,0 .444,0a.222,.222 0 1,0 -.444,0Z"
      }
    },
    {
      "data": {"values": [{"t": "2024-12-17T03:50Z", "p": 1.7409}]},
      "mark": {"type": "point", "shape": "circle", "size": 490, "color": "#7b1fa2", "strokeWidth": 1.5, "opacity": 1}
    },
    {
      "data": {"values": [{"t": "2024-12-17T03:50Z", "p": 1.7409}]},
      "mark": {
        "type": "point",
        "filled": true,
        "opacity": 1,
        "color": "#7b1fa2",
        "size": 196,
        "shape": "M.2,-1L-.5,.15L-.05,.15L-.2,1L.5,-.2L.05,-.2Z"
      }
    },
    {
      "data": {"values": [
        {"t": "2024-11-23T07:38Z", "p": 5.2451, "label": "Rising Wedge"},
        {"t": "2024-11-11T06:42Z", "p": 4.0676, "label": "Height of the wedge"}
      ]},
      "mark": {"type": "text", "align": "center", "baseline": "middle", "font": "Open Sans", "fontStyle": "italic", "fontSize": 24, "color": "#1c1f26"},
      "encoding": {"text": {"field": "label"}}
    },
    {
      "data": {"values": [
        {"t": "2024-11-19T03:11Z", "p": 3.6448, "label": "Support  1"},
        {"t": "2024-11-22T02:15Z", "p": 2.7122, "label": "Support 2"},
        {"t": "2024-11-21T18:33Z", "p": 2.3045, "label": "Support 3"},
        {"t": "2024-12-18T16:54Z", "p": 4.5022, "label": "Support 0"}
      ]},
      "mark": {"type": "text", "align": "center", "baseline": "middle", "font": "Open Sans", "fontStyle": "italic", "fontSize": 23, "color": "#1c1f26"},
      "encoding": {"text": {"field": "label"}}
    },
    {
      "data": {"values": [
        {"t": "2024-12-05T21:14Z", "p": 5.1808, "label": "HH"},
        {"t": "2024-12-11T09:29Z", "p": 5.4511, "label": "HH"},
        {"t": "2024-12-16T08:57Z", "p": 5.7153, "label": "HH"},
        {"t": "2024-12-16T07:12Z", "p": 4.735, "label": "HL"},
        {"t": "2024-12-11T07:41Z", "p": 4.082, "label": "HL"},
        {"t": "2024-12-04T15:03Z", "p": 3.3703, "label": "HL"}
      ]},
      "mark": {"type": "text", "align": "center", "baseline": "middle", "font": "Open Sans", "fontStyle": "italic", "fontSize": 20, "color": "#333338"},
      "encoding": {"text": {"field": "label"}}
    },
    {
      "data": {"values": [
        {"t": "2025-01-15T13:26Z", "p": 5.4714, "label": "5.473"},
        {"t": "2025-01-15T13:26Z", "p": 5.3653, "label": "01:24:42"},
        {"t": "2025-01-15T13:26Z", "p": 3.0739, "label": "3.076"}
      ]},
      "mark": {"type": "text", "align": "left", "baseline": "middle", "fontSize": 15, "color": "#ffffff"},
      "encoding": {"text": {"field": "label"}}
    },
    {
      "data": {"values": [{"t": "2025-01-15T18:29Z", "p": 6.0271, "label": "USDT"}]},
      "mark": {"type": "text", "align": "left", "baseline": "middle", "fontSize": 16, "color": "#131722"},
      "encoding": {"text": {"field": "label"}}
    }
  ]
}
